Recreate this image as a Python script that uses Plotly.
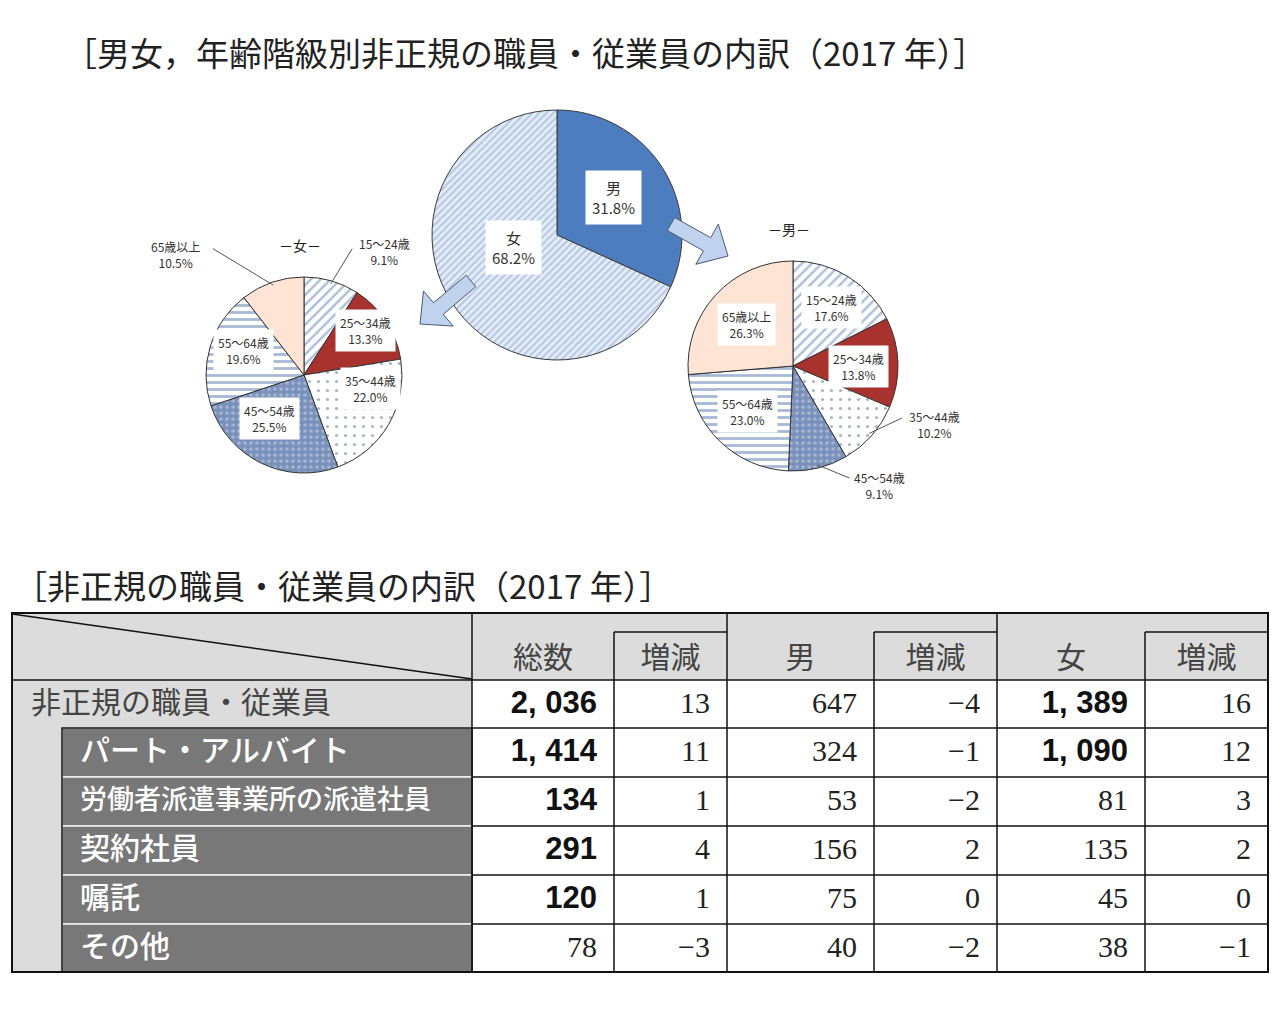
import math
import plotly.graph_objects as go

W, H = 1280, 1016
OFF = 8  # default page margin of the html body
FIG_W, FIG_H = W - OFF, H - OFF

# ---- data -------------------------------------------------------------
sex_labels = ["男", "女"]
sex_share = [31.8, 68.2]

age_groups = ["15～24歳", "25～34歳", "35～44歳", "45～54歳", "55～64歳", "65歳以上"]
female_age = [9.1, 13.3, 22.0, 25.5, 19.6, 10.5]
male_age = [17.6, 13.8, 10.2, 9.1, 23.0, 26.3]

row_labels = ["非正規の職員・従業員", "パート・アルバイト", "労働者派遣事業所の派遣社員",
              "契約社員", "嘱託", "その他"]
col_labels = ["総数", "増減", "男", "増減", "女", "増減"]
total = [2036, 1414, 134, 291, 120, 78]
total_chg = [13, 11, 1, 4, 1, -3]
male = [647, 324, 53, 156, 75, 40]
male_chg = [-4, -1, -2, 2, 0, -2]
female = [1389, 1090, 81, 135, 45, 38]
female_chg = [16, 12, 3, 2, 0, -1]

# ---- styles -----------------------------------------------------------
JP = "Noto Sans CJK JP"
SERIF = "Liberation Serif, DejaVu Serif"
NARROW = "Liberation Sans Narrow, Liberation Sans, Arial"

age_bg = ["#ffffff", "#a8332e", "#ffffff", "#7890ba", "#ffffff", "#fde4d4"]
age_fg = ["#5a7fb8", "#a8332e", "#55698f", "#cdd7ea", "#4f74ad", "#fde4d4"]
age_shape = ["/", "", ".", ".", "-", ""]
age_psize = [7, 8, 9, 6, 7, 8]
age_solid = [0.35, 0.3, 0.1, 0.3, 0.4, 0.3]

# pie geometry (centre x, centre y, radius) in page pixels
PIES = {
    "main": (557, 235, 125),
    "female": (304, 375, 98),
    "male": (793, 366, 105),
}
# label placement: (radius factor, angle nudge in degrees)
main_lab = [(0.54, -0.7), (0.36, 16)]
female_lab = [(1.5, 16.6), (0.78, -2.7), (0.69, -19.1), (0.56, 12.6), (0.67, 5.4), (1.8, -27.9)]
male_lab = [(0.67, 1.8), (0.62, 1.8), (1.46, -18.8), (1.41, -22), (0.61, 1.1), (0.6, -0.9)]
# leader lines for labels outside the pie: slice index -> (factor, nudge) of the line end
female_lead = {0: (1.38, 4.5), 5: (1.59, -16.9)}
male_lead = {2: (1.15, -15.9), 3: (1.2, -13.1)}


def domain(key):
    cx, cy, r = PIES[key]
    return dict(x=[(cx - r - OFF) / FIG_W, (cx + r - OFF) / FIG_W],
                y=[1 - (cy + r - OFF) / FIG_H, 1 - (cy - r - OFF) / FIG_H])


def mids(values):
    out, cum = [], 0
    tot = sum(values)
    for v in values:
        out.append(360 * (cum + v / 2) / tot)
        cum += v
    return out


def polar(key, deg, f):
    cx, cy, r = PIES[key]
    a = math.radians(deg)
    return cx + f * r * math.sin(a), cy - f * r * math.cos(a)


def arrow_path(x0, y0, x1, y1, shaft=15, head=46, head_len=24):
    L = math.hypot(x1 - x0, y1 - y0)
    ux, uy = (x1 - x0) / L, (y1 - y0) / L
    nx, ny = -uy, ux
    bx, by = x1 - ux * head_len, y1 - uy * head_len
    pts = [(x0 + nx * shaft / 2, y0 + ny * shaft / 2),
           (bx + nx * shaft / 2, by + ny * shaft / 2),
           (bx + nx * head / 2, by + ny * head / 2),
           (x1, y1),
           (bx - nx * head / 2, by - ny * head / 2),
           (bx - nx * shaft / 2, by - ny * shaft / 2),
           (x0 - nx * shaft / 2, y0 - ny * shaft / 2)]
    return "M " + " L ".join(f"{px:.1f},{py:.1f}" for px, py in pts) + " Z"


fig = go.Figure()

# ---- pies -------------------------------------------------------------
fig.add_trace(go.Pie(
    labels=sex_labels, values=sex_share, sort=False, direction="clockwise",
    domain=domain("main"), textinfo="none", hoverinfo="skip",
    marker=dict(colors=["#4d7cbf", "#e3ebf7"], line=dict(color="#3a3a3a", width=1),
                pattern=dict(shape=["", "/"], fgcolor=["#4d7cbf", "#7f9ecb"],
                             size=[8, 5], solidity=[0.3, 0.35], fillmode="overlay")),
))
for key, vals in (("female", female_age), ("male", male_age)):
    fig.add_trace(go.Pie(
        labels=age_groups, values=vals, sort=False, direction="clockwise",
        domain=domain(key), textinfo="none", hoverinfo="skip",
        marker=dict(colors=age_bg, line=dict(color="#333333", width=1),
                    pattern=dict(shape=age_shape, fgcolor=age_fg, size=age_psize,
                                 solidity=age_solid, fillmode="overlay")),
    ))

annotations = []
shapes = []

# pie labels
for i, (lab, v) in enumerate(zip(sex_labels, sex_share)):
    f, nudge = main_lab[i]
    x, y = polar("main", mids(sex_share)[i] + nudge, f)
    annotations.append(dict(x=x, y=y, text=f"{lab}<br>{v:.1f}%", showarrow=False,
                            bgcolor="white", borderpad=6,
                            font=dict(family=JP, size=15, color="#333")))

for key, vals, labs, leads in (("female", female_age, female_lab, female_lead),
                               ("male", male_age, male_lab, male_lead)):
    m = mids(vals)
    for i, (g, v) in enumerate(zip(age_groups, vals)):
        f, nudge = labs[i]
        x, y = polar(key, m[i] + nudge, f)
        annotations.append(dict(x=x, y=y, text=f"{g}<br>{v:.1f}%", showarrow=False,
                                bgcolor="white", borderpad=4,
                                font=dict(family=JP, size=12, color="#333")))
        if i in leads:
            ex, ey = polar(key, m[i] + leads[i][1], leads[i][0])
            sx, sy = polar(key, m[i], 0.97)
            shapes.append(dict(type="line", xref="x", yref="y", x0=sx, y0=sy, x1=ex, y1=ey,
                               line=dict(color="#555", width=1), layer="above"))
    cx, cy, r = PIES[key]
    annotations.append(dict(x=cx - 4, y=cy - r - 32, text="－" + ("女" if key == "female" else "男") + "－",
                            showarrow=False, font=dict(family=JP, size=14, color="#222")))

# arrows from the main pie
for (x0, y0, x1, y1) in ((671, 224, 728, 256), (471, 281, 420, 324)):
    shapes.append(dict(type="path", xref="x", yref="y", path=arrow_path(x0, y0, x1, y1),
                       fillcolor="#c0d3ee", line=dict(color="#4a5a70", width=1), layer="above"))

# ---- table ------------------------------------------------------------
X = [12, 472, 614, 727, 874, 997, 1145, 1268]
Y_TOP, Y_SUB, Y_HEAD = 613, 632, 680
Y_ROWS = [680, 728, 777, 826, 875, 924, 972]
INDENT = 62
LINE = dict(color="#111", width=1.5)


def rect(x0, y0, x1, y1, fill=None, line=None, layer="below"):
    shapes.append(dict(type="rect", xref="x", yref="y", x0=x0, y0=y0, x1=x1, y1=y1,
                       fillcolor=fill or "rgba(0,0,0,0)", line=line or dict(width=0), layer=layer))


def hline(x0, x1, y, line=LINE):
    shapes.append(dict(type="line", xref="x", yref="y", x0=x0, x1=x1, y0=y, y1=y, line=line))


def vline(x, y0, y1, line=LINE):
    shapes.append(dict(type="line", xref="x", yref="y", x0=x, x1=x, y0=y0, y1=y1, line=line))


rect(X[0], Y_TOP, X[-1], Y_HEAD, fill="#dcdcdc")
rect(X[0], Y_ROWS[0], X[1], Y_ROWS[1], fill="#dcdcdc")
rect(X[0], Y_ROWS[1], INDENT, Y_ROWS[-1], fill="#dcdcdc")
rect(X[1], Y_ROWS[0], X[-1], Y_ROWS[-1], fill="white")
for i in range(1, len(row_labels)):
    rect(INDENT, Y_ROWS[i], X[1], Y_ROWS[i + 1], fill="#787878",
         line=dict(color="#f2f2f2", width=1.5))
rect(INDENT, Y_ROWS[1], X[1], Y_ROWS[-1], line=LINE)

for y in Y_ROWS:
    hline(X[1], X[-1], y)
hline(X[0], X[1], Y_HEAD)
for c in (1, 3, 5):
    vline(X[c], Y_TOP, Y_ROWS[-1])
for c in (2, 4, 6):
    vline(X[c], Y_SUB, Y_ROWS[-1])
    hline(X[c], X[c + 1], Y_SUB)
shapes.append(dict(type="line", xref="x", yref="y", x0=X[0], y0=Y_TOP + 1, x1=X[1], y1=Y_HEAD - 1,
                   line=dict(color="#111", width=1.5)))
rect(X[0], Y_TOP, X[-1], Y_ROWS[-1], line=dict(color="#111", width=2), layer="above")

# header labels
fig.add_trace(go.Scatter(
    x=[(X[c + 1] + X[c + 2]) / 2 for c in range(len(col_labels))],
    y=[660] * len(col_labels), text=col_labels, mode="text", hoverinfo="skip",
    textposition="middle center", textfont=dict(family=JP, size=30, color="#444"),
))

# row labels
row_y = [(Y_ROWS[i] + Y_ROWS[i + 1]) / 2 + 1 for i in range(len(row_labels))]
fig.add_trace(go.Scatter(
    x=[31], y=row_y[:1], text=row_labels[:1], mode="text", hoverinfo="skip",
    textposition="middle right", textfont=dict(family=JP, size=30, color="#444"),
))
fig.add_trace(go.Scatter(
    x=[80] * (len(row_labels) - 1), y=row_y[1:], text=row_labels[1:], mode="text",
    hoverinfo="skip", textposition="middle right",
    textfont=dict(family=JP, size=[30, 27, 30, 30, 30], color="white", weight=500),
))

# values
columns = [total, total_chg, male, male_chg, female, female_chg]
bold_cells = {(0, r) for r in range(5)} | {(4, 0), (4, 1)}


def fmt(v, bold):
    s = f"{abs(v):,}"
    if bold:
        s = s.replace(",", ", ")
    return ("−" if v < 0 else "") + s


reg = dict(x=[], y=[], t=[])
bld = dict(x=[], y=[], t=[])
for c, col in enumerate(columns):
    for r, v in enumerate(col):
        b = (c, r) in bold_cells
        d = bld if b else reg
        d["x"].append(X[c + 2] - 17)
        d["y"].append(row_y[r])
        d["t"].append(fmt(v, b))
fig.add_trace(go.Scatter(x=reg["x"], y=reg["y"], text=reg["t"], mode="text", hoverinfo="skip",
                         textposition="middle left",
                         textfont=dict(family=SERIF, size=30, color="#222")))
fig.add_trace(go.Scatter(x=bld["x"], y=bld["y"], text=bld["t"], mode="text", hoverinfo="skip",
                         textposition="middle left",
                         textfont=dict(family=NARROW, size=31, color="#111", weight="bold")))

# titles
annotations.append(dict(x=62, y=52, xanchor="left", text="［男女，年齢階級別非正規の職員・従業員の内訳（2017 年）］",
                        showarrow=False, font=dict(family=JP, size=33, color="#222")))
annotations.append(dict(x=12, y=585, xanchor="left", text="［非正規の職員・従業員の内訳（2017 年）］",
                        showarrow=False, font=dict(family=JP, size=33, color="#222")))
for a in annotations:
    a.setdefault("xref", "x")
    a.setdefault("yref", "y")

fig.update_layout(
    width=FIG_W, height=FIG_H, margin=dict(l=0, r=0, t=0, b=0),
    paper_bgcolor="white", plot_bgcolor="white", showlegend=False,
    xaxis=dict(range=[OFF, W], visible=False, fixedrange=True),
    yaxis=dict(range=[H, OFF], visible=False, fixedrange=True),
    shapes=shapes, annotations=annotations,
)

fig.write_html("out.html")
